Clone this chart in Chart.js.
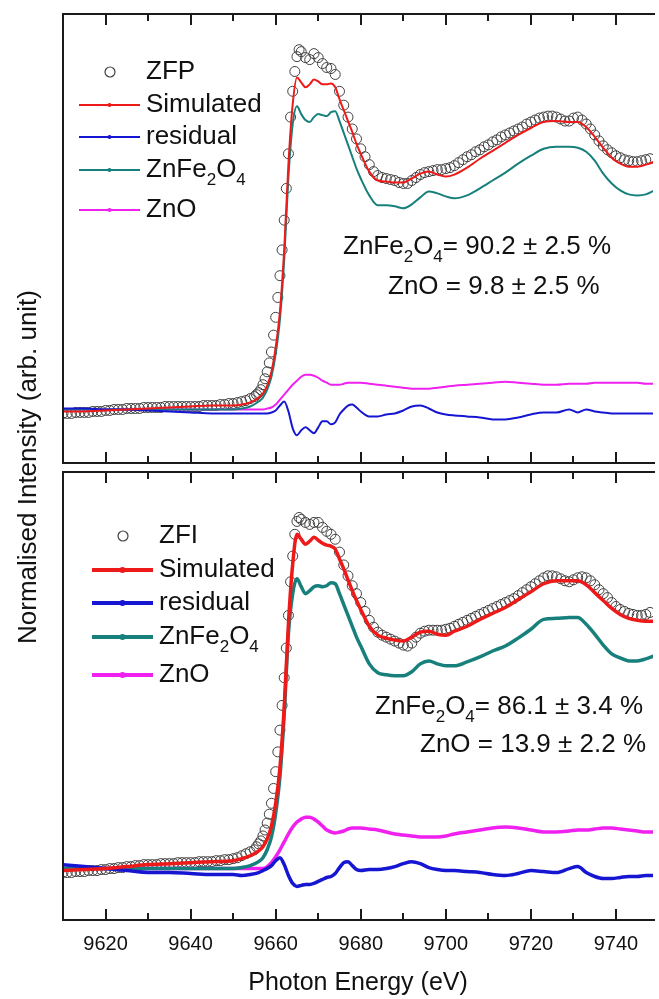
<!DOCTYPE html>
<html>
<head>
<meta charset="utf-8">
<script src="https://cdn.jsdelivr.net/npm/chart.js@4.4.1/dist/chart.umd.min.js"></script>
<style>
  html, body { margin: 0; padding: 0; background: #fff; }
  #wrap { position: relative; width: 659px; height: 999px; overflow: hidden; background: #fff; }
  canvas { position: absolute; left: 0; }
  #top { top: 0; }
  #bottom { top: 466px; }
  #ytitle {
    position: absolute; left: -173px; top: 452px; width: 400px; height: 30px;
    line-height: 30px; text-align: center; white-space: nowrap;
    font: 26px "Liberation Sans", Arial, sans-serif; color: #111;
    transform: rotate(-90deg); transform-origin: 50% 50%;
  }
</style>
</head>
<body>
<div id="wrap">
  <canvas id="top" width="659" height="469"></canvas>
  <canvas id="bottom" width="659" height="533"></canvas>
  <div id="ytitle">Normalised Intensity (arb. unit)</div>
</div>
<script>
// photon energy grid of the fitted curves (eV)
const lineEnergy = [9610, 9615, 9620, 9625, 9630, 9635, 9640, 9645, 9650, 9652,
  9654, 9656, 9657, 9658, 9659, 9660, 9661, 9662, 9663, 9664,
  9665, 9666, 9667, 9668, 9669, 9670, 9671, 9672, 9673, 9674,
  9675, 9676, 9677, 9678, 9679, 9680, 9682, 9684, 9686, 9688,
  9690, 9692, 9694, 9696, 9698, 9700, 9702, 9705, 9708, 9711,
  9714, 9717, 9720, 9723, 9726, 9729, 9731, 9733, 9735, 9737,
  9739, 9741, 9743, 9745, 9747, 9749];

// photon energy of the measured points (eV)
const dataEnergy = [9610, 9611, 9612, 9613, 9614, 9615, 9616, 9617, 9618, 9619,
  9620, 9621, 9622, 9623, 9624, 9625, 9626, 9627, 9628, 9629,
  9630, 9631, 9632, 9633, 9634, 9635, 9636, 9637, 9638, 9639,
  9640, 9641, 9642, 9643, 9644, 9645, 9646, 9647, 9648, 9649,
  9650, 9651, 9652, 9653, 9654, 9655,
  9655.5, 9656, 9656.5, 9657, 9657.5, 9658, 9658.5, 9659, 9659.5, 9660, 9660.5,
  9661, 9661.5, 9662, 9662.5, 9663, 9663.5, 9664, 9664.5, 9665, 9665.5, 9666,
  9667, 9668, 9669, 9670, 9671, 9672, 9673, 9674, 9675, 9676,
  9677, 9678, 9679, 9680, 9681, 9682, 9683, 9684, 9685, 9686,
  9687, 9688, 9689, 9690, 9691, 9692, 9693, 9694, 9695, 9696,
  9697, 9698, 9699, 9700, 9701, 9702, 9703, 9704, 9705, 9706,
  9707, 9708, 9709, 9710, 9711, 9712, 9713, 9714, 9715, 9716,
  9717, 9718, 9719, 9720, 9721, 9722, 9723, 9724, 9725, 9726,
  9727, 9728, 9729, 9730, 9731, 9732, 9733, 9734, 9735, 9736,
  9737, 9738, 9739, 9740, 9741, 9742, 9743, 9744, 9745, 9746,
  9747, 9748];

// ZFP (top panel), intensity in arb. units
const zfpMeasured = [-4, -4, -4, -3, -3, -3, -3, -2, -2, -2,
  -1, -1, 0, 0, 0, 1, 1, 1, 1, 2,
  2, 2, 2, 2, 3, 3, 3, 3, 3, 3,
  3, 3, 3, 4, 4, 4, 4, 5, 5, 6,
  6, 7, 8, 9, 11, 13,
  15, 17, 20, 25, 31, 38, 47, 58, 75, 93, 113,
  135, 161, 191, 223, 258, 295, 321, 341, 356, 363, 361,
  355, 353, 359, 355, 349, 345, 344, 338, 321, 307,
  295, 283, 273, 263, 255, 247, 240, 236, 234, 233,
  232, 231, 229, 228, 228, 231, 234, 237, 239, 240,
  241, 242, 242, 243, 244, 246, 249, 252, 255, 257,
  260, 262, 265, 267, 270, 272, 275, 277, 279, 281,
  283, 285, 288, 290, 292, 294, 295, 296, 296, 295,
  293, 291, 291, 294, 295, 292, 288, 283, 277, 271,
  266, 262, 259, 256, 254, 252, 251, 250, 250, 251,
  252, 253];
const zfpSimulated = [-2, -2, -1, 0, 1, 2, 3, 4, 4, 5,
  7, 12, 16, 24, 38, 63, 99, 161, 248, 308,
  335, 330, 325, 328, 333, 331, 328, 328, 329, 325,
  313, 302, 291, 280, 268, 258, 240, 231, 230, 229,
  229, 233, 238, 240, 237, 235, 237, 244, 253, 261,
  269, 277, 284, 290, 291, 290, 290, 285, 275, 264,
  254, 248, 245, 245, 247, 250];
const zfpResidual = [1, 1, 0, 0, -1, -2, -3, -4, -4, -4,
  -4, -4, -4, -4, -3, -1, 4, 8, -2, -19,
  -26, -21, -18, -21, -24, -18, -12, -12, -15, -13,
  -5, 0, 4, 5, 2, -2, -7, -7, -5, -4,
  -1, 3, 4, 1, -3, -5, -6, -7, -8, -10,
  -10, -8, -5, -3, -3, 0, -3, 0, -2, -3,
  -4, -4, -4, -4, -4, -4];
const zfpZnFe2O4 = [0, 0, 0, 0, 0, 0, 0, 0, 0, 1,
  3, 8, 12, 20, 33, 56, 91, 151, 235, 288,
  306, 298, 292, 290, 295, 298, 297, 296, 300, 301,
  291, 279, 267, 255, 243, 233, 216, 206, 206, 205,
  203, 207, 214, 220, 218, 215, 213, 216, 223, 231,
  239, 248, 256, 263, 265, 265, 264, 260, 251, 238,
  228, 221, 217, 216, 217, 221];
const zfpZnO = [0, 0, 0, 0, 0, 0, 0, 0, 0, 0,
  0, 0, 0, 1, 2, 5, 10, 15, 20, 25,
  29, 33, 35, 35, 34, 32, 29, 27, 25, 25,
  25, 26, 27, 27, 27, 27, 26, 25, 24, 23,
  22, 21, 21, 21, 22, 23, 24, 25, 26, 27,
  28, 27, 26, 25, 25, 26, 26, 26, 27, 27,
  27, 27, 27, 27, 26, 26];

// ZFI (bottom panel), intensity in arb. units
const zfiMeasured = [-6, -6, -6, -5, -5, -5, -4, -4, -4, -3,
  -3, -2, -2, -1, -1, 0, 0, 1, 1, 2,
  2, 2, 2, 3, 3, 3, 3, 4, 4, 4,
  4, 4, 5, 5, 5, 5, 6, 6, 7, 7,
  8, 9, 11, 13, 15, 17,
  20, 23, 26, 31, 37, 44, 53, 64, 79, 96, 116,
  138, 163, 191, 221, 254, 288, 314, 336, 349, 353, 351,
  348, 346, 348, 348, 343, 339, 336, 331, 318, 305,
  294, 284, 276, 267, 258, 249, 242, 237, 234, 232,
  230, 228, 226, 224, 223, 226, 232, 236, 238, 239,
  239, 239, 239, 240, 241, 243, 245, 247, 249, 251,
  253, 255, 257, 259, 261, 263, 265, 267, 269, 271,
  274, 277, 280, 283, 286, 289, 292, 294, 294, 293,
  291, 289, 288, 290, 292, 293, 292, 289, 285, 280,
  276, 272, 267, 263, 260, 258, 256, 255, 254, 254,
  255, 257];
const zfiSimulated = [-4, -3, -2, 0, 2, 3, 4, 5, 6, 8,
  11, 16, 20, 28, 41, 64, 100, 161, 246, 306,
  336, 331, 326, 329, 333, 330, 327, 325, 324, 321,
  311, 301, 290, 279, 269, 260, 243, 234, 231, 229,
  228, 232, 237, 238, 235, 234, 238, 243, 250, 256,
  262, 270, 278, 286, 289, 289, 289, 285, 277, 269,
  261, 255, 251, 249, 248, 248];
const zfiResidual = [2, 0, -2, -4, -6, -6, -7, -8, -8, -9,
  -8, -6, -4, -2, 1, 6, 9, 2, -9, -17,
  -20, -19, -18, -18, -17, -15, -13, -11, -10, -7,
  -1, 4, 5, 1, -3, -4, -3, -3, -2, 0,
  3, 5, 3, -1, -3, -4, -4, -5, -6, -8,
  -9, -7, -4, -5, -6, -2, 0, -6, -10, -12,
  -12, -11, -10, -10, -9, -9];
const zfiZnFe2O4 = [-2, -2, -2, -2, -2, -2, -2, -2, -2, -1,
  1, 5, 9, 17, 30, 54, 91, 154, 236, 276,
  291, 283, 276, 279, 283, 284, 283, 284, 287, 286,
  276, 265, 254, 243, 232, 223, 205, 196, 194, 193,
  193, 197, 205, 208, 205, 203, 203, 207, 212, 218,
  223, 231, 240, 250, 251, 252, 252, 245, 235, 224,
  215, 211, 208, 208, 210, 213];
const zfiZnO = [-2, -2, -2, -2, -2, -2, -2, -2, -2, -2,
  -2, -2, -2, 0, 4, 10, 17, 25, 33, 40,
  45, 48, 50, 50, 48, 45, 41, 37, 35, 34,
  35, 36, 38, 39, 39, 39, 38, 37, 35, 33,
  32, 31, 30, 30, 30, 31, 33, 35, 37, 39,
  40, 39, 37, 35, 35, 36, 37, 37, 38, 39,
  39, 38, 37, 36, 35, 35];

const xTickLabels = [9620, 9640, 9660, 9680, 9700, 9720, 9740];
const xMinorTicks = [9630, 9650, 9670, 9690, 9710, 9730];

const RED = '#ee1a1a', BLUE = '#1616d2', TEAL = '#17807c', MAGENTA = '#f021f0', GREY = '#404040';
const FONT = '"Liberation Sans", Arial, sans-serif';

const pairs = (xs, ys) => xs.map((x, i) => ({ x: x, y: ys[i] }));

function drawRich(ctx, x, y, parts, size) {
  ctx.textBaseline = 'middle';
  ctx.textAlign = 'left';
  ctx.fillStyle = '#111';
  parts.forEach(p => {
    ctx.font = (p.sub ? Math.round(size * 0.66) : size) + 'px ' + FONT;
    ctx.fillText(p.t, x, p.sub ? y + size * 0.38 : y);
    x += ctx.measureText(p.t).width;
  });
}

const ZNFE = [{ t: 'ZnFe' }, { t: '2', sub: true }, { t: 'O' }, { t: '4', sub: true }];

// frame, inward ticks, legend and the fraction labels
function decor(p) {
  return {
    id: 'decor',
    afterDatasetsDraw(chart) {
      const ctx = chart.ctx, a = chart.chartArea, x = chart.scales.x;
      const off = p.offset;
      ctx.save();
      ctx.strokeStyle = '#1a1a1a';
      ctx.lineWidth = 2;
      ctx.beginPath();
      ctx.moveTo(a.left, a.top); ctx.lineTo(a.right + 2, a.top);
      ctx.moveTo(a.left, a.bottom); ctx.lineTo(a.right + 2, a.bottom);
      ctx.moveTo(a.left, a.top - 1); ctx.lineTo(a.left, a.bottom + 1);
      xTickLabels.forEach(v => {
        const px = Math.round(x.getPixelForValue(v));
        ctx.moveTo(px, a.top); ctx.lineTo(px, a.top + 11);
        ctx.moveTo(px, a.bottom); ctx.lineTo(px, a.bottom - 11);
      });
      xMinorTicks.forEach(v => {
        const px = Math.round(x.getPixelForValue(v));
        ctx.moveTo(px, a.top); ctx.lineTo(px, a.top + 7);
        ctx.moveTo(px, a.bottom); ctx.lineTo(px, a.bottom - 7);
      });
      ctx.stroke();

      // legend
      const L = p.legend;
      ctx.lineWidth = 1.2;
      ctx.strokeStyle = GREY;
      ctx.beginPath();
      ctx.arc(L.cx, L.rows[0] - off, 5, 0, Math.PI * 2);
      ctx.stroke();
      drawRich(ctx, L.tx, L.rows[0] - off, [{ t: p.name }], 26);
      const entries = [
        { c: RED, parts: [{ t: 'Simulated' }] },
        { c: BLUE, parts: [{ t: 'residual' }] },
        { c: TEAL, parts: ZNFE },
        { c: MAGENTA, parts: [{ t: 'ZnO' }] }
      ];
      entries.forEach((e, i) => {
        const y = L.rows[i + 1] - off;
        ctx.strokeStyle = e.c;
        ctx.lineWidth = L.lw;
        ctx.beginPath();
        ctx.moveTo(L.x0, y); ctx.lineTo(L.x1, y);
        ctx.stroke();
        ctx.fillStyle = e.c;
        ctx.beginPath();
        ctx.arc((L.x0 + L.x1) / 2, y, L.lw / 2 + 1, 0, Math.PI * 2);
        ctx.fill();
        drawRich(ctx, L.tx, y, e.parts, 26);
      });

      // fractions
      p.notes.forEach(n => drawRich(ctx, n.x, n.y - off, n.parts, 26));
      ctx.restore();
    }
  };
}

function panelSets(m, sim, res, fe, zno, lw) {
  const line = (label, data, color, order) => ({
    label: label, data: pairs(lineEnergy, data), borderColor: color, borderWidth: lw,
    pointRadius: 0, fill: false, cubicInterpolationMode: 'monotone', order: order
  });
  return [
    line('Simulated', sim, RED, 1),
    line('residual', res, BLUE, 2),
    line('ZnFe2O4', fe, TEAL, 3),
    line('ZnO', zno, MAGENTA, 4),
    {
      label: 'data', data: pairs(dataEnergy, m), showLine: false,
      pointRadius: 5, pointBorderWidth: 1, pointBorderColor: GREY,
      pointBackgroundColor: 'rgba(255,255,255,0)', order: 5
    }
  ];
}

function makeChart(id, datasets, p) {
  return new Chart(document.getElementById(id), {
    type: 'line',
    data: { datasets: datasets },
    options: {
      responsive: false,
      animation: false,
      devicePixelRatio: 1,
      layout: { padding: p.padding },
      plugins: { legend: { display: false }, tooltip: { enabled: false } },
      scales: {
        x: {
          type: 'linear', min: 9610, max: 9748.7, display: p.showX,
          grid: { display: false, drawTicks: false },
          border: { display: false },
          afterBuildTicks: s => { s.ticks = xTickLabels.map(v => ({ value: v })); },
          afterFit: s => { if (p.showX) s.height = 79; },
          ticks: {
            padding: 12, color: '#111', maxRotation: 0, autoSkip: false,
            font: { family: FONT, size: 20 },
            callback: v => String(v)
          },
          title: {
            display: true, text: 'Photon Energy (eV)', color: '#111',
            font: { family: FONT, size: 25 }, padding: { top: 0, bottom: 1 }
          }
        },
        y: { min: -54, max: 399, display: false }
      }
    },
    plugins: [decor(p)]
  });
}

makeChart('top', panelSets(zfpMeasured, zfpSimulated, zfpResidual, zfpZnFe2O4, zfpZnO, 2), {
  name: 'ZFP', offset: 0, showX: false,
  padding: { left: 63, right: 0, top: 14, bottom: 2 },
  legend: { cx: 110, tx: 146, x0: 79, x1: 140, lw: 2, rows: [72, 105, 137, 170, 210] },
  notes: [
    { x: 343, y: 247, parts: ZNFE.concat([{ t: '= 90.2 \u00b1 2.5 %' }]) },
    { x: 388, y: 287, parts: [{ t: 'ZnO = 9.8 \u00b1 2.5 %' }] }
  ]
});

makeChart('bottom', panelSets(zfiMeasured, zfiSimulated, zfiResidual, zfiZnFe2O4, zfiZnO, 3.5), {
  name: 'ZFI', offset: 466, showX: true,
  padding: { left: 63, right: 0, top: 1, bottom: 0 },
  legend: { cx: 123, tx: 159, x0: 92, x1: 153, lw: 4, rows: [536, 570, 603, 637, 675] },
  notes: [
    { x: 375, y: 707, parts: ZNFE.concat([{ t: '= 86.1 \u00b1 3.4 %' }]) },
    { x: 420, y: 745, parts: [{ t: 'ZnO = 13.9 \u00b1 2.2 %' }] }
  ]
});
</script>
</body>
</html>
